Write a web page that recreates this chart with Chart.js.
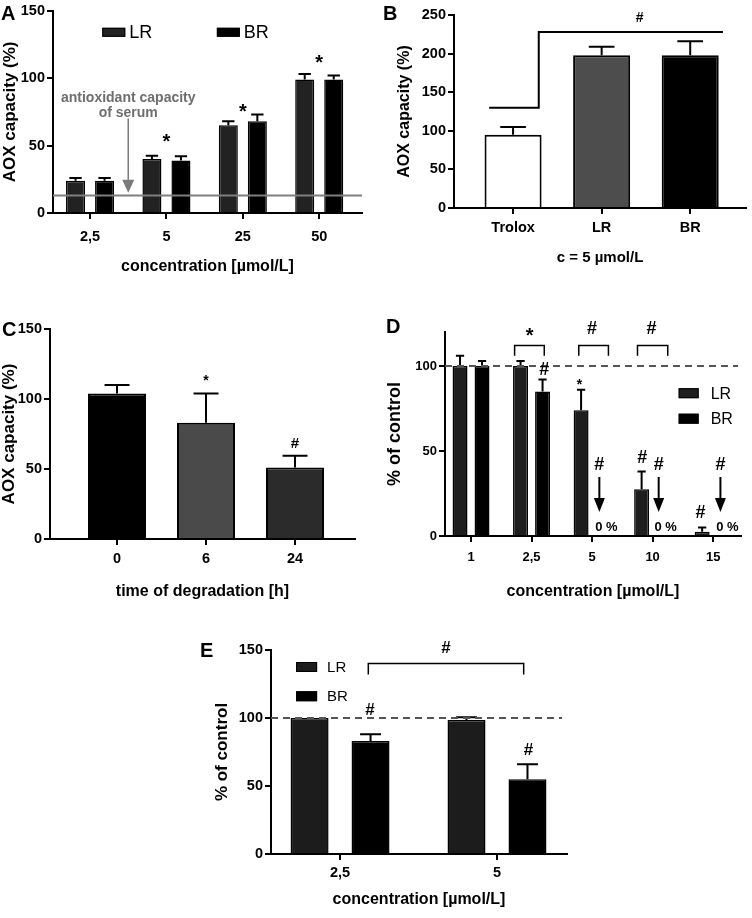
<!DOCTYPE html>
<html>
<head>
<meta charset="utf-8">
<script src="https://cdn.jsdelivr.net/npm/chart.js@4.4.1/dist/chart.umd.min.js"></script>
<style>
  body { margin: 0; background: #fff; }
  #page { position: relative; width: 752px; height: 918px; overflow: hidden; background: #fff; }
  canvas { position: absolute; }
  .tag { position: absolute; z-index: 2; font: bold 20px 'Liberation Sans', Arial, sans-serif; line-height: 20px; }
</style>
</head>
<body>
<div id="page">
  <div class="tag" style="left:1px;top:3px">A</div>
  <div class="tag" style="left:383px;top:3px">B</div>
  <div class="tag" style="left:2px;top:319px">C</div>
  <div class="tag" style="left:386px;top:316px">D</div>
  <div class="tag" style="left:200px;top:640px">E</div>
</div>
<script>
// ---- panel A: AOX capacity vs concentration
const aCats = ["2,5", "5", "25", "50"];
const aLR   = [24, 40, 65, 99];
const aLRsd = [2, 2.5, 3, 4];
const aBR   = [24, 39, 68, 99];
const aBRsd = [2, 3, 5, 3];
const aSerum = 13;                 // antioxidant capacity of serum
const aStars = [{x: 1, y: 56}, {x: 2, y: 78}, {x: 3, y: 114}];

// ---- panel B: c = 5 umol/L
const bCats = ["Trolox", "LR", "BR"];
const bVals = [95, 198, 198];
const bSd   = [10, 11, 18];
const bBracket = [[-0.27, 130], [0.29, 130], [0.29, 228], [2.37, 228]];
const bHash = [{x: 1.43, y: 246}];

// ---- panel C: time of degradation
const cCats = ["0", "6", "24"];
const cVals = [104, 83, 51];
const cSd   = [6, 21, 8.5];
const cStars = [{x: 1, y: 115}];
const cHash  = [{x: 2, y: 68}];

// ---- panel D: % of control
const dCats = ["1", "2,5", "5", "10", "15"];
const dLR   = [100, 100, 74, 27.5, 2.5];
const dLRsd = [6, 3, 12, 10.5, 2.5];
const dBR   = [100, 85, 0, 0, 0];
const dBRsd = [3, 7, 0, 0, 0];
const dBrackets = [{x1: 0.72, x2: 1.21}, {x1: 1.78, x2: 2.27}, {x1: 2.75, x2: 3.25}];
const dBracketTop = 112, dBracketLeg = 106;
const dStarsBig = [{x: 0.97, y: 120}];
const dStarsSmall = [{x: 1.79, y: 90.6}];
const dHash = [{x: 2.0, y: 122}, {x: 2.98, y: 122}, {x: 1.21, y: 97.6}, {x: 2.83, y: 45.9},
               {x: 3.79, y: 13.5}, {x: 2.12, y: 41.8}, {x: 3.10, y: 41.8}, {x: 4.12, y: 41.8}];
const dZeroArrows = [2.12, 3.10, 4.12];
const dArrowFrom = 34.7, dArrowTo = 14.1, dZeroAt = 5.3;

// ---- panel E: % of control
const eCats = ["2,5", "5"];
const eLR   = [100, 98.5];
const eLRsd = [0, 2];
const eBR   = [83, 55];
const eBRsd = [5, 11];
const eBracket = {x1: 0.18, x2: 1.17, top: 140, leg: 132};
const eHash = [{x: 0.675, y: 151}, {x: 0.19, y: 106}, {x: 1.2, y: 76.5}];

const SANS = "'Liberation Sans', Arial, sans-serif";

function pts(vals){ return vals.map((v, i) => ({x: i, y: v})); }

function helpers(ch){
  const xs = ch.scales.x, ys = ch.scales.y;
  return { X: v => xs.getPixelForValue(v), Y: v => ys.getPixelForValue(v), area: ch.chartArea };
}

function drawErr(ch, cap){
  const ctx = ch.ctx, h = helpers(ch);
  ctx.save();
  ctx.strokeStyle = "#000"; ctx.lineWidth = 2;
  ch.data.datasets.forEach((ds, di) => {
    if(!ds.sd) return;
    ch.getDatasetMeta(di).data.forEach((bar, i) => {
      const sd = ds.sd[i];
      if(!sd) return;
      const yt = h.Y(ds.data[i].y + sd), w = bar.width * cap;
      ctx.beginPath();
      ctx.moveTo(bar.x, bar.y); ctx.lineTo(bar.x, yt);
      ctx.moveTo(bar.x - w/2, yt); ctx.lineTo(bar.x + w/2, yt);
      ctx.stroke();
    });
  });
  ctx.restore();
}

function marks(ctx, h, list, text, size, weight, dy){
  ctx.save();
  ctx.font = weight + " " + size + "px " + SANS;
  ctx.fillStyle = "#000"; ctx.textAlign = "center"; ctx.textBaseline = "middle";
  list.forEach(m => ctx.fillText(text, h.X(m.x), h.Y(m.y) + dy * size));
  ctx.restore();
}

function legendItem(ctx, x, y, ds, bw, bh, gap, font){
  ctx.save();
  ctx.fillStyle = ds.backgroundColor; ctx.fillRect(x, y - bh/2, bw, bh);
  ctx.strokeStyle = "#000"; ctx.lineWidth = 1; ctx.strokeRect(x + .5, y - bh/2 + .5, bw - 1, bh - 1);
  ctx.fillStyle = "#000"; ctx.font = font; ctx.textAlign = "left"; ctx.textBaseline = "middle";
  ctx.fillText(ds.label, x + bw + gap, y + 1);
  ctx.restore();
}

function arrow(ctx, x, y1, y2, hl, hw, color, lw){
  ctx.save();
  ctx.strokeStyle = color; ctx.fillStyle = color; ctx.lineWidth = lw;
  ctx.beginPath(); ctx.moveTo(x, y1); ctx.lineTo(x, y2 - hl); ctx.stroke();
  ctx.beginPath(); ctx.moveTo(x - hw/2, y2 - hl); ctx.lineTo(x + hw/2, y2 - hl); ctx.lineTo(x, y2); ctx.closePath(); ctx.fill();
  ctx.restore();
}

function dashed(ctx, h, v, x1, x2){
  ctx.save();
  ctx.strokeStyle = "#555"; ctx.lineWidth = 2; ctx.setLineDash([7, 5]);
  ctx.beginPath(); ctx.moveTo(x1, h.Y(v)); ctx.lineTo(x2, h.Y(v)); ctx.stroke();
  ctx.restore();
}

function bracket(ctx, h, x1, x2, top, leg, lw){
  ctx.save();
  ctx.strokeStyle = "#000"; ctx.lineWidth = lw;
  ctx.beginPath();
  ctx.moveTo(h.X(x1), h.Y(leg)); ctx.lineTo(h.X(x1), h.Y(top));
  ctx.lineTo(h.X(x2), h.Y(top)); ctx.lineTo(h.X(x2), h.Y(leg));
  ctx.stroke();
  ctx.restore();
}

function panel(p){
  const c = document.createElement("canvas");
  c.width = p.box.w; c.height = p.box.h;
  Object.assign(c.style, {left: p.box.x + "px", top: p.box.y + "px", width: p.box.w + "px", height: p.box.h + "px"});
  document.getElementById("page").appendChild(c);

  const tl = 6;
  const tickLH = p.tickSize * 1.2, xtLH = p.titleSize * 1.2, ytLH = p.yTitleSize * 1.2;
  const yLeft = p.yTitleX - ytLH/2;
  const yW = p.area.l - yLeft;
  const xH = p.xTitleY + xtLH/2 - p.area.b;
  const xPad = p.xTickY - p.area.b - tl - tickLH/2;
  const tickFont = {family: SANS, size: p.tickSize, weight: "bold"};
  const grid = {display: true, offset: false, drawOnChartArea: false, tickLength: tl, tickColor: "#000", lineWidth: 2};
  const border = {display: true, color: "#000", width: 2};

  return new Chart(c, {
    type: "bar",
    data: {datasets: p.datasets},
    options: {
      responsive: false, animation: false, events: [],
      layout: {padding: {
        left: yLeft - p.box.x, top: p.area.t - p.box.y,
        right: p.box.x + p.box.w - p.area.r, bottom: p.box.y + p.box.h - p.area.b - xH }},
      plugins: {legend: {display: false}, tooltip: {enabled: false}},
      scales: {
        x: {
          type: "linear", min: p.xMin, max: p.xMax, offset: false, z: 1,
          afterBuildTicks: s => { s.ticks = p.cats.map((_, i) => ({value: i})); },
          afterFit: s => { s.height = xH; },
          grid: grid, border: border,
          ticks: {font: tickFont, color: "#000", padding: xPad, maxRotation: 0, autoSkip: false,
                  callback: v => p.cats[v]},
          title: {display: true, text: p.xTitle, color: "#000", padding: 0,
                  font: {family: SANS, size: p.titleSize, weight: "bold"}}
        },
        y: {
          min: 0, max: p.yMax,
          afterBuildTicks: s => { s.ticks = p.yTicks.map(v => ({value: v})); },
          afterFit: s => { s.width = yW; },
          grid: grid, border: border,
          ticks: {font: tickFont, color: "#000", padding: 2},
          title: {display: true, text: p.yTitle, color: "#000", padding: 0,
                  font: {family: SANS, size: p.yTitleSize, weight: "bold"}}
        }
      }
    },
    plugins: [{
      id: "extras",
      afterDatasetsDraw(ch){
        drawErr(ch, p.cap);
        if(p.draw) p.draw(ch.ctx, helpers(ch), ch);
      }
    }]
  });
}

function barSet(label, vals, sd, color, cp, bp, bw){
  return {label: label, data: pts(vals), sd: sd, backgroundColor: color, borderColor: "#000",
          borderWidth: bw, borderSkipped: "start", categoryPercentage: cp, barPercentage: bp};
}

// A
panel({
  box: {x: -10, y: 0, w: 386, h: 290}, area: {l: 53, r: 362, t: 8, b: 213},
  yTitleX: 10, xTitleY: 267, xTickY: 237,
  xMin: -0.485, xMax: 3.56, yMax: 150, yTicks: [0, 50, 100, 150],
  tickSize: 14.5, titleSize: 16, yTitleSize: 17, cap: 0.65,
  cats: aCats, xTitle: "concentration [µmol/L]", yTitle: "AOX capacity (%)",
  datasets: [barSet("LR", aLR, aLRsd, "#222", 0.76, 0.655, 1.5), barSet("BR", aBR, aBRsd, "#000", 0.76, 0.655, 1.5)],
  draw(ctx, h, ch){
    ctx.save();
    ctx.strokeStyle = "#7f7f7f"; ctx.lineWidth = 2;
    ctx.beginPath(); ctx.moveTo(h.area.left, h.Y(aSerum)); ctx.lineTo(h.area.right, h.Y(aSerum)); ctx.stroke();
    ctx.restore();
    arrow(ctx, h.X(0.5), h.Y(70), h.Y(aSerum + 2), 13, 12, "#7a7a7a", 1.5);
    ctx.save();
    ctx.fillStyle = "#6e6e6e"; ctx.font = "bold 14px " + SANS; ctx.textAlign = "center"; ctx.textBaseline = "middle";
    ctx.fillText("antioxidant capacity", h.X(0.5), h.Y(85.3));
    ctx.fillText("of serum", h.X(0.5), h.Y(74.3));
    ctx.restore();
    marks(ctx, h, aStars, "*", 20, "bold", 0.23);
    const ds = ch.data.datasets;
    legendItem(ctx, h.X(0.16), h.Y(134), ds[0], 23, 9, 4, "18px " + SANS);
    legendItem(ctx, h.X(1.66), h.Y(134), ds[1], 23, 9, 4, "18px " + SANS);
  }
});

// B
panel({
  box: {x: 376, y: 0, w: 376, h: 290}, area: {l: 454, r: 746, t: 15, b: 208},
  yTitleX: 405, xTitleY: 258, xTickY: 228,
  xMin: -0.667, xMax: 2.63, yMax: 250, yTicks: [0, 50, 100, 150, 200, 250],
  tickSize: 14.5, titleSize: 15, yTitleSize: 16, cap: 0.45,
  cats: bCats, xTitle: "c = 5 µmol/L", yTitle: "AOX capacity (%)",
  datasets: [{label: "B", data: pts(bVals), sd: bSd, backgroundColor: ["#fff", "#4d4d4d", "#000"],
              borderColor: "#000", borderWidth: 2, borderSkipped: "start",
              categoryPercentage: 0.8, barPercentage: 0.805}],
  draw(ctx, h){
    ctx.save();
    ctx.strokeStyle = "#000"; ctx.lineWidth = 2;
    ctx.beginPath();
    bBracket.forEach((q, i) => i ? ctx.lineTo(h.X(q[0]), h.Y(q[1])) : ctx.moveTo(h.X(q[0]), h.Y(q[1])));
    ctx.stroke();
    ctx.restore();
    marks(ctx, h, bHash, "#", 14, "bold", 0);
  }
});

// C
panel({
  box: {x: -10, y: 290, w: 386, h: 320}, area: {l: 50, r: 355, t: 329, b: 539},
  yTitleX: 9, xTitleY: 592, xTickY: 559,
  xMin: -0.753, xMax: 2.674, yMax: 150, yTicks: [0, 50, 100, 150],
  tickSize: 14.5, titleSize: 16, yTitleSize: 17, cap: 0.43,
  cats: cCats, xTitle: "time of degradation [h]", yTitle: "AOX capacity (%)",
  datasets: [{label: "C", data: pts(cVals), sd: cSd, backgroundColor: ["#000", "#4a4a4a", "#2b2b2b"],
              borderColor: "#000", borderWidth: 2, borderSkipped: "start",
              categoryPercentage: 0.8, barPercentage: 0.815}],
  draw(ctx, h){
    marks(ctx, h, cStars, "*", 14, "bold", 0.23);
    marks(ctx, h, cHash, "#", 15, "bold", 0);
  }
});

// D
panel({
  box: {x: 376, y: 290, w: 376, h: 330}, area: {l: 445, r: 741, t: 332, b: 536},
  yTitleX: 395, xTitleY: 592, xTickY: 557,
  xMin: -0.43, xMax: 4.46, yMax: 120, yTicks: [0, 50, 100],
  tickSize: 13, titleSize: 16, yTitleSize: 18, cap: 0.55,
  cats: dCats, xTitle: "concentration [µmol/L]", yTitle: "% of control",
  datasets: [barSet("LR", dLR, dLRsd, "#1e1e1e", 0.727, 0.68, 1.5), barSet("BR", dBR, dBRsd, "#000", 0.727, 0.68, 1.5)],
  draw(ctx, h, ch){
    dashed(ctx, h, 100, h.area.left, h.area.right - 3);
    dBrackets.forEach(b => bracket(ctx, h, b.x1, b.x2, dBracketTop, dBracketLeg, 1.5));
    marks(ctx, h, dStarsBig, "*", 20, "bold", 0.23);
    marks(ctx, h, dStarsSmall, "*", 14, "bold", 0.23);
    marks(ctx, h, dHash, "#", 18, "bold", 0);
    ctx.save();
    ctx.font = "bold 13px " + SANS; ctx.fillStyle = "#000"; ctx.textAlign = "center"; ctx.textBaseline = "middle";
    dZeroArrows.forEach(a => {
      arrow(ctx, h.X(a), h.Y(dArrowFrom), h.Y(dArrowTo), 14, 11, "#000", 2);
      ctx.fillText("0 %", h.X(a) + 7, h.Y(dZeroAt));
    });
    ctx.restore();
    const ds = ch.data.datasets;
    legendItem(ctx, h.X(3.43), h.Y(84), ds[0], 20, 10, 12, "16px " + SANS);
    legendItem(ctx, h.X(3.43), h.Y(69), ds[1], 20, 10, 12, "16px " + SANS);
  }
});

// E
panel({
  box: {x: 190, y: 610, w: 420, h: 308}, area: {l: 271, r: 567, t: 650, b: 854},
  yTitleX: 222, xTitleY: 900, xTickY: 873,
  xMin: -0.44, xMax: 1.446, yMax: 150, yTicks: [0, 50, 100, 150],
  tickSize: 14.5, titleSize: 16, yTitleSize: 17, cap: 0.55,
  cats: eCats, xTitle: "concentration [µmol/L]", yTitle: "% of control",
  datasets: [barSet("LR", eLR, eLRsd, "#1c1c1c", 0.777, 0.623, 1.5), barSet("BR", eBR, eBRsd, "#000", 0.777, 0.623, 1.5)],
  draw(ctx, h, ch){
    dashed(ctx, h, 100, h.area.left, h.area.right - 5);
    bracket(ctx, h, eBracket.x1, eBracket.x2, eBracket.top, eBracket.leg, 1.5);
    marks(ctx, h, eHash, "#", 17, "bold", 0);
    const ds = ch.data.datasets;
    legendItem(ctx, h.X(-0.28), h.Y(137.5), ds[0], 21, 10, 10, "15px " + SANS);
    legendItem(ctx, h.X(-0.28), h.Y(116), ds[1], 21, 10, 10, "15px " + SANS);
  }
});
</script>
</body>
</html>
